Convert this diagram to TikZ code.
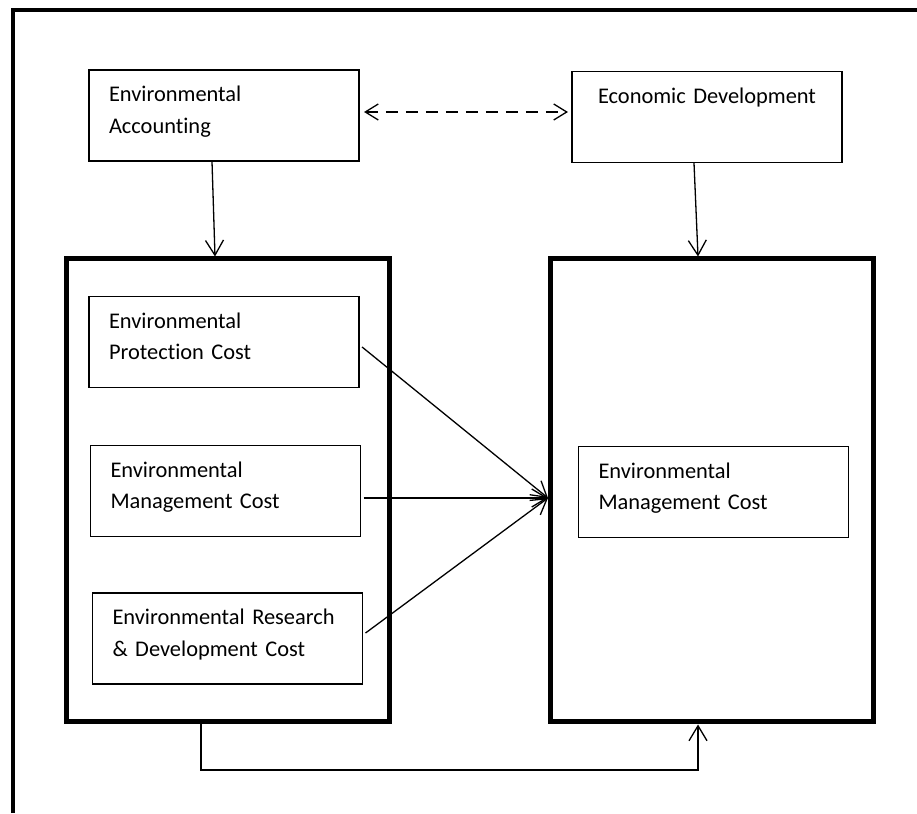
\documentclass[tikz,border=0pt]{standalone}
\usepackage{fontspec}
\setmainfont{Carlito}[Ligatures=NoCommon,WordSpace=0.9]
\usetikzlibrary{arrows.meta}

\begin{document}
\begin{tikzpicture}[x=1pt,y=1pt,
  box/.style={draw,line width=1.1pt,inner xsep=20pt,inner ysep=10pt,
    text width=230pt,align=left,text height=22pt,text depth=49pt,
    font=\fontsize{22.4}{31.5}\selectfont},
  bigbox/.style={draw,line width=5pt,minimum width=323pt,minimum height=463pt},
  conn/.style={line width=1.3pt,-{Straight Barb[length=15pt,width=18pt]}},
  dual/.style={line width=1.3pt,dash pattern=on 12pt off 8pt,
    {Straight Barb[length=13pt,width=16pt]}-{Straight Barb[length=13pt,width=16pt]}}]
  \useasboundingbox (0,0) rectangle (917,813);
  % outer frame, open at right and bottom
  \draw[line width=4pt] (13,0) -- (13,802.5) -- (917,802.5);

  \node[box] (acct) at (224,697.5) {Environmental\\Accounting};
  \node[box,align=center] (econ) at (707,696) {Economic Development};
  \node[bigbox] (costs) at (227.5,322.5) {};
  \node[bigbox] (mgmt) at (712,322.5) {};
  \node[box] (prot) at (224,471) {Environmental\\Protection Cost};
  \node[box] (lmgmt) at (225.5,322) {Environmental\\Management Cost};
  \node[box] (rnd) at (227.5,174.5) {Environmental Research\\\& Development Cost};
  \node[box] (envmgmt) at (713.5,321) {Environmental\\Management Cost};

  \draw[dual] ([shift={(4.5pt,3.5pt)}]acct.east) -- ([shift={(-3.5pt,5pt)}]econ.west);
  \draw[conn] ([xshift=-12pt]acct.south) -- ([xshift=-12.5pt]costs.north);
  \draw[conn] ([xshift=-13pt]econ.south) -- ([xshift=-14pt]mgmt.north);

  \coordinate (hub) at ([yshift=-7.5pt]mgmt.west);
  \foreach \src/\dy in {prot/-5,lmgmt/-7,rnd/5.5}
    \draw[conn] ([shift={(2.5pt,\dy pt)}]\src.east) -- (hub);

  \draw[conn] ([xshift=-26.5pt]costs.south) -- ++(0,-45.5) -| ([xshift=-14pt]mgmt.south);
\end{tikzpicture}
\end{document}
